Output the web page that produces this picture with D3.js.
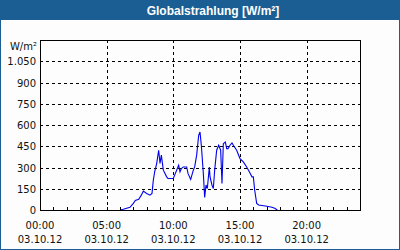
<!DOCTYPE html>
<html><head><meta charset="utf-8">
<script src="https://cdn.jsdelivr.net/npm/d3@7"></script>
<style>
html,body{margin:0;padding:0;background:#fff;}
svg{display:block;}
</style></head>
<body>
<svg id="c" width="400" height="250"></svg>
<script>
const title = "Globalstrahlung [W/m²]";
const unitLabel = "W/m²";
const hours = [6.0,6.25,6.75,7.0,7.15,7.4,7.6,7.75,8.0,8.25,8.4,8.5,8.6,8.75,8.9,9.0,9.1,9.25,9.5,9.6,10.0,10.1,10.4,10.5,10.6,10.75,11.0,11.1,11.3,11.5,11.6,11.75,11.9,12.0,12.1,12.25,12.35,12.45,12.55,12.7,12.75,12.9,13.0,13.1,13.25,13.4,13.55,13.65,13.75,13.9,14.0,14.1,14.25,14.4,14.5,14.75,15.0,15.25,15.5,15.7,15.9,16.0,16.1,16.25,16.4,16.9,17.4,17.6,17.8];
const values = [0,5,19,47,68,75,105,133,117,105,117,211,270,328,422,328,387,281,234,222,222,246,316,270,293,304,304,258,216,281,304,387,527,551,457,258,89,176,152,304,235,175,152,281,422,457,422,187,468,480,433,433,457,473,457,422,363,340,304,270,234,234,141,47,35,28,19,12,0];
const yTicks = [0,150,300,450,600,750,900,1050];
const yTickLabels = ["0","150","300","450","600","750","900","1.050"];
const xTicks = [0,5,10,15,20];
const xTimeLabels = ["00:00","05:00","10:00","15:00","20:00"];
const xDateLabels = ["03.10.12","03.10.12","03.10.12","03.10.12","03.10.12"];

const svg = d3.select("#c");
const W = 400, H = 250;
const blue = "#1b5e93";
const font = "'DejaVu Sans', Verdana, sans-serif";
const tfont = "'Liberation Sans', Arial, sans-serif";

svg.append("rect").attr("x",0).attr("y",0).attr("width",W).attr("height",H).attr("fill","#fcfdfc");
svg.append("rect").attr("x",0.5).attr("y",0.5).attr("width",W-1).attr("height",H-1)
  .attr("fill","none").attr("stroke",blue).attr("stroke-width",1);
svg.append("rect").attr("x",0).attr("y",0).attr("width",W).attr("height",20).attr("fill",blue);
svg.append("text").attr("x",213).attr("y",15).attr("text-anchor","middle")
  .attr("font-family",tfont).attr("font-weight","bold").attr("font-size",12)
  .attr("fill","#fff").text(title);

const L = 40, R = 360, T = 40, B = 210;
const x = d3.scaleLinear().domain([0,24]).range([L,R]);
const y = d3.scaleLinear().domain([0,1200]).range([B,T]);

// grid
const g = svg.append("g");
g.selectAll(".hg").data(yTicks.filter(d=>d>0)).enter().append("line")
  .attr("x1",L).attr("x2",R).attr("y1",d=>Math.round(y(d))+0.5).attr("y2",d=>Math.round(y(d))+0.5)
  .attr("stroke","#000").attr("stroke-dasharray","3,3");
g.selectAll(".vg").data(xTicks.filter(d=>d>0)).enter().append("line")
  .attr("y1",T).attr("y2",B).attr("x1",d=>Math.round(x(d))+0.5).attr("x2",d=>Math.round(x(d))+0.5)
  .attr("stroke","#000").attr("stroke-dasharray","3,3");

// data line
const pts = hours.map((h,i)=>[h,values[i]]);
svg.append("path").datum(pts)
  .attr("d", d3.line().x(d=>x(d[0])).y(d=>y(d[1])))
  .attr("fill","none").attr("stroke","#0000ee").attr("stroke-width",1.1);

// frame
svg.append("rect").attr("x",L+0.5).attr("y",T+0.5).attr("width",R-L).attr("height",B-T)
  .attr("fill","none").attr("stroke","#000");

// minor hourly ticks
svg.selectAll(".mt").data(d3.range(1,24)).enter().append("line")
  .attr("x1",d=>Math.round(x(d))+0.5).attr("x2",d=>Math.round(x(d))+0.5)
  .attr("y1",B).attr("y2",B-3).attr("stroke","#000");

// y labels
svg.selectAll(".yl").data(yTicks).enter().append("text")
  .attr("x",36).attr("y",d=>y(d)+4).attr("text-anchor","end")
  .attr("font-family",font).attr("font-size",10).attr("fill","#111")
  .text((d,i)=>yTickLabels[i]);
svg.append("text").attr("x",37).attr("y",50).attr("text-anchor","end")
  .attr("font-family",font).attr("font-size",10).attr("fill","#111").text(unitLabel);

// x labels
svg.selectAll(".xl").data(xTicks).enter().append("text")
  .attr("x",d=>x(d)).attr("y",229).attr("text-anchor","middle")
  .attr("font-family",font).attr("font-size",10).attr("fill","#111")
  .text((d,i)=>xTimeLabels[i]);
svg.selectAll(".xd").data(xTicks).enter().append("text")
  .attr("x",d=>x(d)).attr("y",243).attr("text-anchor","middle")
  .attr("font-family",font).attr("font-size",10).attr("fill","#111")
  .text((d,i)=>xDateLabels[i]);
</script>
</body></html>
